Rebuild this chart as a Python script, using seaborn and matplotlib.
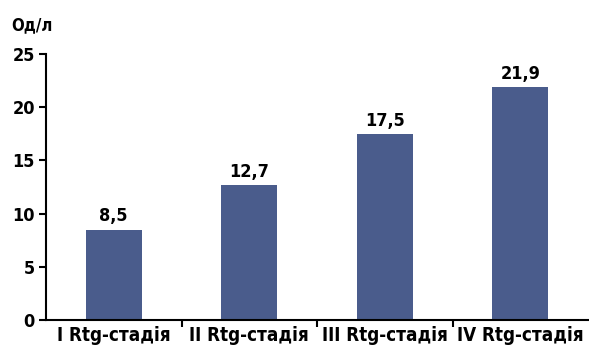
import matplotlib
matplotlib.use("Agg")
import matplotlib.pyplot as plt
import seaborn as sns
import pandas as pd
from matplotlib.ticker import FixedLocator, NullFormatter

stages = ["I Rtg-стадія", "II Rtg-стадія", "III Rtg-стадія", "IV Rtg-стадія"]
values = [8.5, 12.7, 17.5, 21.9]
value_labels = ["8,5", "12,7", "17,5", "21,9"]
y_ticks = [0, 5, 10, 15, 20, 25]
unit_label = "Од/л"

sns.set_theme(style="white")
plt.rcParams["font.family"] = ["DejaVu Sans"]
plt.rcParams["font.stretch"] = "condensed"
plt.rcParams["font.weight"] = "bold"
plt.rcParams["text.color"] = "black"
plt.rcParams["xtick.color"] = "black"
plt.rcParams["ytick.color"] = "black"
plt.rcParams["xtick.labelcolor"] = "black"
plt.rcParams["ytick.labelcolor"] = "black"

df = pd.DataFrame({"stage": stages, "value": values})

fig = plt.figure(figsize=(5.89, 3.51), dpi=100)
ax = fig.add_axes([46 / 589, (351 - 320) / 351, (588 - 46) / 589, (320 - 54) / 351])

sns.barplot(data=df, x="stage", y="value", color="#4a5c8c", saturation=1,
            width=0.41, ax=ax, edgecolor="none")

ax.set_xlim(-0.5, 3.5)
ax.set_ylim(0, 25)
ax.set_yticks(y_ticks)
ax.set_yticklabels([str(t) for t in y_ticks], fontsize=13, fontweight="bold",
                   fontstretch="condensed")
ax.set_xticks(range(len(stages)))
ax.set_xticklabels(stages, fontsize=13.5, fontweight="bold", fontstretch="condensed")
ax.xaxis.set_minor_locator(FixedLocator([0.5, 1.5, 2.5]))
ax.xaxis.set_minor_formatter(NullFormatter())
ax.tick_params(axis="x", which="major", bottom=False, length=0, pad=4)
ax.tick_params(axis="x", which="minor", bottom=True, length=5, width=1.5,
               color="black", direction="out")
ax.tick_params(axis="y", left=True, length=5, width=1.5, color="black",
               direction="out", pad=3)
ax.set_xlabel("")
ax.set_ylabel("")

for side in ["top", "right"]:
    ax.spines[side].set_visible(False)
for side in ["left", "bottom"]:
    ax.spines[side].set_color("black")
    ax.spines[side].set_linewidth(1.5)

for i, (v, lab) in enumerate(zip(values, value_labels)):
    ax.text(i, v + 0.4, lab, ha="center", va="bottom", fontsize=13,
            fontweight="bold", fontstretch="condensed", color="black")

fig.text(11 / 589, 1 - 25 / 351, unit_label, ha="left", va="center",
         fontsize=12, fontweight="bold", fontstretch="condensed", color="black")

fig.savefig("out.png", dpi=100)
